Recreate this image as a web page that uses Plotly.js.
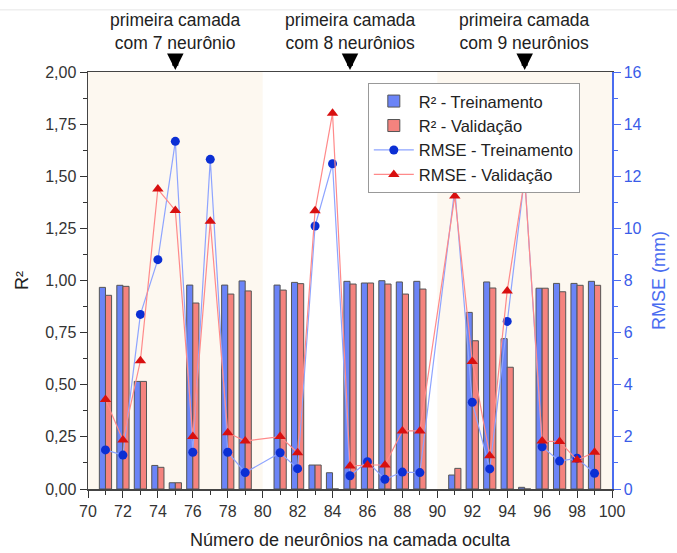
<!DOCTYPE html>
<html>
<head>
<meta charset="utf-8">
<script src="https://cdn.plot.ly/plotly-3.0.1.min.js"></script>
<style>html,body{margin:0;padding:0;background:#fff;}#chart{width:677px;height:553px;}</style>
</head>
<body>
<div id="chart"></div>
<script>
// Number of neurons in the hidden layer
const neurons = [71,72,73,74,75,76,77,78,79,81,82,83,84,85,86,87,88,89,91,92,93,94,95,96,97,98,99];
// R² values (null = no bar)
const r2Train = [0.967,0.977,0.516,0.113,0.030,0.978,null,0.978,0.998,0.978,0.991,0.115,0.078,0.996,0.988,0.999,0.993,0.996,0.067,0.847,0.993,0.721,0.008,0.963,0.986,0.986,0.996];
const r2Val   = [0.929,0.972,0.516,0.104,0.030,0.892,null,0.935,0.950,0.954,0.985,0.115,0.000,0.983,0.988,0.983,0.935,0.959,0.099,0.711,0.964,0.584,0.000,0.963,0.946,0.977,0.977];
// RMSE (mm)
const rmseTrain = [1.50,1.30,6.70,8.80,13.34,1.41,12.65,1.41,0.63,1.39,0.78,10.09,12.48,0.51,1.05,0.37,0.65,0.63,11.52,3.33,0.77,6.43,12.00,1.62,1.07,1.18,0.60];
const rmseVal   = [3.43,1.88,4.92,11.51,10.69,2.01,10.27,2.16,1.84,2.01,1.39,10.68,14.42,0.88,0.92,0.92,2.23,2.23,11.24,4.89,1.28,7.60,11.92,1.84,1.82,1.11,1.41];
// Annotations
const groupLabels = ["primeira camada<br>com 7 neurônio","primeira camada<br>com 8 neurônios","primeira camada<br>com 9 neurônios"];
const groupCenters = [75,85,95];
const shadedRanges = [[70,80],[90,100]];

const FONT = 'Liberation Sans, Arial, sans-serif';

const traces = [
  {type:'bar', x:neurons, y:r2Train, name:'R² - Treinamento',
   marker:{color:'#6b84f7', line:{color:'#555', width:1}}},
  {type:'bar', x:neurons, y:r2Val, name:'R² - Validação',
   marker:{color:'#f4837e', line:{color:'#555', width:1}}},
  {type:'scatter', mode:'lines+markers', x:neurons, y:rmseTrain, yaxis:'y2', name:'RMSE - Treinamento',
   line:{color:'#8ea4ff', width:1.2}, marker:{symbol:'circle', size:9, color:'#0b2fd4'}},
  {type:'scatter', mode:'lines+markers', x:neurons, y:rmseVal, yaxis:'y2', name:'RMSE - Validação',
   line:{color:'#ff8a8a', width:1.2}, marker:{symbol:'triangle-up', size:10, color:'#d81010'}}
];

const shapes = shadedRanges.map(r => ({type:'rect', xref:'x', yref:'paper', x0:r[0], x1:r[1], y0:0, y1:1,
  fillcolor:'#fdf8f0', line:{width:0}, layer:'below'}));
shapes.push({type:'line', xref:'paper', yref:'paper', x0:-0.2, x1:1.2, y0:1.149, y1:1.149, line:{color:'#e6e6e6', width:1}});

const annotations = [];
groupCenters.forEach((c,i) => {
  annotations.push({x:c, xref:'x', y:1.04, yref:'paper', text:groupLabels[i], showarrow:false,
    xanchor:'center', yanchor:'bottom', font:{family:FONT, size:17.5, color:'#222'}});
  annotations.push({x:c, xref:'x', y:1.0, yref:'paper', ax:0, ay:-16, text:'', showarrow:true,
    arrowhead:2, arrowsize:0.55, arrowwidth:6, arrowcolor:'#000', standoff:2});
});

const tickFont = {family:FONT, size:16, color:'#333'};
const layout = {
  width:677, height:553,
  margin:{l:88, r:65, t:72, b:64},
  paper_bgcolor:'#fff', plot_bgcolor:'#fff',
  separators:',.',
  barmode:'group', bargap:0.3, bargroupgap:0,
  showlegend:true,
  legend:{x:0.534, y:0.974, xanchor:'left', yanchor:'top', bgcolor:'#fff', bordercolor:'#999', borderwidth:1,
    font:{family:FONT, size:16.5, color:'#222'}, tracegroupgap:0, itemwidth:40},
  xaxis:{range:[70,100], dtick:2, tick0:70, ticks:'outside', ticklen:7, tickcolor:'#333', showgrid:false, zeroline:false,
    showline:true, linecolor:'#444', linewidth:1.5, mirror:true,
    minor:{dtick:1, ticklen:4, tickcolor:'#333', showgrid:false},
    tickfont:tickFont,
    title:{text:'Número de neurônios na camada oculta', font:{family:FONT, size:18, color:'#222'}, standoff:14}},
  yaxis:{range:[0,2], dtick:0.25, tickformat:'.2f', ticks:'outside', ticklen:7, tickcolor:'#333', showgrid:false, zeroline:false,
    showline:true, linecolor:'#444', linewidth:1.5,
    minor:{dtick:0.125, ticklen:4, tickcolor:'#333', showgrid:false},
    tickfont:tickFont,
    title:{text:'R²', font:{family:FONT, size:18, color:'#222'}, standoff:12}},
  yaxis2:{range:[0,16], dtick:2, overlaying:'y', side:'right', ticks:'outside', ticklen:7, tickcolor:'#4a6cf0', showgrid:false, zeroline:false,
    showline:true, linecolor:'#4a6cf0', linewidth:1.5,
    minor:{dtick:1, ticklen:4, tickcolor:'#4a6cf0', showgrid:false},
    tickfont:{family:FONT, size:16, color:'#3a5ce8'},
    title:{text:'RMSE (mm)', font:{family:FONT, size:18, color:'#4a6cf0'}, standoff:12}},
  shapes:shapes,
  annotations:annotations
};

Plotly.newPlot('chart', traces, layout, {displayModeBar:false, staticPlot:true});
</script>
</body>
</html>
